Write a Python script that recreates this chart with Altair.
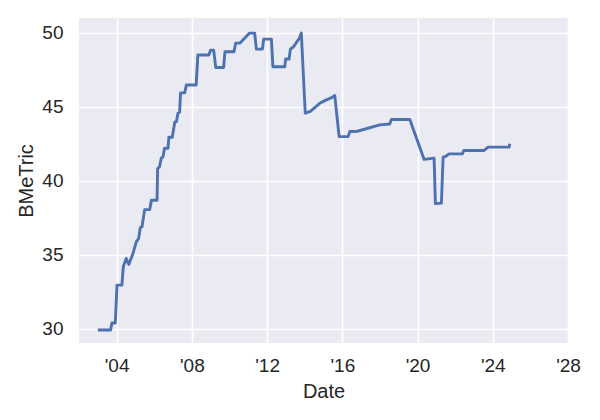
import altair as alt
import pandas as pd

years = [
    2003.00, 2003.68, 2003.75, 2003.93, 2004.02, 2004.28, 2004.36, 2004.51,
    2004.65, 2004.87, 2005.05, 2005.17, 2005.26, 2005.35, 2005.49, 2005.76,
    2005.85, 2006.15, 2006.18, 2006.28, 2006.38, 2006.46, 2006.55, 2006.73,
    2006.78, 2006.96, 2007.09, 2007.18, 2007.26, 2007.35, 2007.40, 2007.62,
    2007.71, 2008.23, 2008.32, 2008.90, 2009.00, 2009.16, 2009.27, 2009.69,
    2009.76, 2010.24, 2010.33, 2010.55, 2011.07, 2011.16, 2011.34, 2011.43,
    2011.75, 2011.82, 2012.23, 2012.31, 2012.94, 2012.99, 2013.17, 2013.24,
    2013.41, 2013.56, 2013.70, 2013.82, 2014.03, 2014.30, 2014.80, 2015.15,
    2015.40, 2015.60, 2015.83, 2016.31, 2016.40, 2016.80, 2017.99, 2018.52,
    2018.61, 2019.59, 2020.35, 2020.88, 2020.95, 2021.27, 2021.36, 2021.50,
    2021.67, 2022.38, 2022.46, 2023.52, 2023.75, 2024.87, 2024.90,
]
values = [
    29.93, 29.93, 30.40, 30.40, 32.96, 32.96, 34.24, 34.76,
    34.35, 35.10, 35.90, 36.10, 36.85, 36.90, 38.06, 38.06,
    38.69, 38.69, 40.82, 40.95, 41.56, 41.60, 42.20, 42.20,
    42.95, 42.95, 43.96, 44.00, 44.57, 44.65, 45.94, 45.94,
    46.48, 46.48, 48.50, 48.50, 48.83, 48.83, 47.66, 47.66,
    48.72, 48.72, 49.30, 49.30, 49.98, 49.98, 49.98, 48.90,
    48.90, 49.57, 49.57, 47.71, 47.71, 48.23, 48.23, 48.90,
    49.06, 49.35, 49.60, 49.98, 44.57, 44.70, 45.24, 45.47,
    45.60, 45.76, 42.99, 42.99, 43.33, 43.35, 43.78, 43.84,
    44.14, 44.14, 41.45, 41.54, 38.46, 38.50, 41.60, 41.65,
    41.82, 41.82, 42.05, 42.05, 42.28, 42.28, 42.50,
]
x_ticks = [2004, 2008, 2012, 2016, 2020, 2024, 2028]
y_ticks = [30, 35, 40, 45, 50]

df = pd.DataFrame({"Date": years, "BMeTric": values})

TEXT = "#262626"
FONT = "Liberation Sans"

chart = (
    alt.Chart(df)
    .mark_line(color="#4C72B0", strokeWidth=2.9, strokeJoin="round")
    .encode(
        x=alt.X(
            "Date:Q",
            scale=alt.Scale(domain=[2002, 2028], nice=False, zero=False),
            axis=alt.Axis(
                values=x_ticks,
                labelExpr="\"'\" + substring(toString(datum.value), 2, 4)",
                title="Date",
                labelPadding=13,
                titlePadding=6,
            ),
        ),
        y=alt.Y(
            "BMeTric:Q",
            scale=alt.Scale(domain=[29.05, 51.0], nice=False, zero=False),
            axis=alt.Axis(
                values=y_ticks,
                title="BMeTric",
                labelPadding=16,
                titlePadding=5,
            ),
        ),
    )
    .properties(
        width=489,
        height=325,
        autosize=alt.AutoSizeParams(type="none"),
        padding={"left": 71, "top": 10, "right": 24, "bottom": 69},
        background="white",
    )
    .configure_view(fill="#EAEAF2", stroke=None)
    .configure_axis(
        domain=False,
        ticks=False,
        tickSize=0,
        grid=True,
        gridColor="white",
        gridWidth=1.6,
        labelFont=FONT,
        labelFontSize=19,
        labelColor=TEXT,
        titleFont=FONT,
        titleFontSize=20,
        titleFontWeight="normal",
        titleColor=TEXT,
        labelOverlap=False,
        labelFlush=False,
    )
)

chart.save("out.html", embed_options={"renderer": "svg", "actions": False})
